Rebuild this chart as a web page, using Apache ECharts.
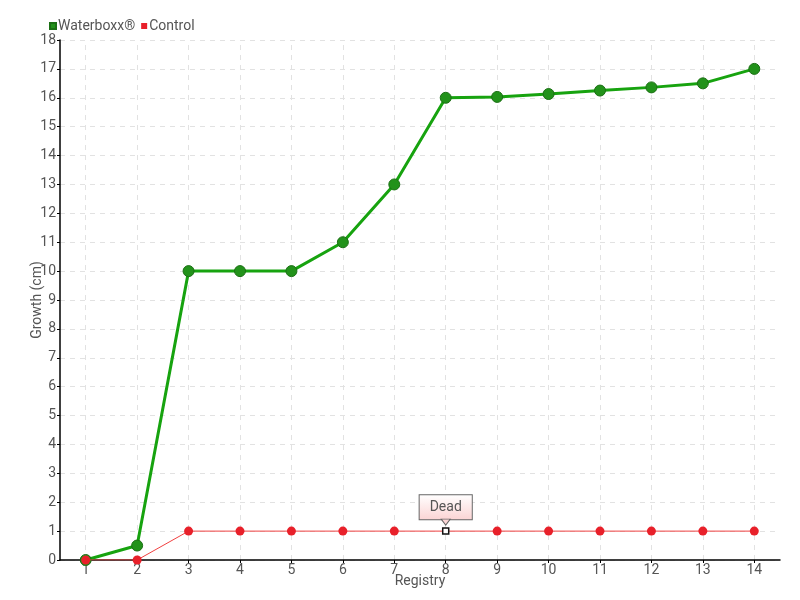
<!DOCTYPE html>
<html>
<head>
<meta charset="utf-8">
<script src="https://cdn.jsdelivr.net/npm/echarts@6/dist/echarts.min.js"></script>
<style>
  html, body { margin: 0; padding: 0; background: #fff; }
  #chart { width: 800px; height: 600px; }
</style>
</head>
<body>
<div id="chart"></div>
<script>
const registry = ['1', '2', '3', '4', '5', '6', '7', '8', '9', '10', '11', '12', '13', '14']
const waterboxx = [0, 0.5, 10, 10, 10, 11, 13, 16, 16.03, 16.13, 16.25, 16.36, 16.5, 17]
const control = [0, 0, 1, 1, 1, 1, 1, 1, 1, 1, 1, 1, 1, 1]
const deadIndex = 7

const font = "Roboto, 'Liberation Sans', sans-serif"
const textColor = '#555'
const gridColor = '#e2e2e2'

const chart = echarts.init(document.getElementById('chart'))

const controlData = control.map((v, i) => {
  if (i !== deadIndex) return v
  return {
    value: v,
    symbol: 'rect',
    symbolSize: 6,
    itemStyle: { color: '#fff', borderColor: '#111', borderWidth: 1.5 },
    label: {
      show: true,
      position: 'top',
      distance: 8,
      formatter: 'Dead',
      fontFamily: font,
      fontSize: 14,
      color: '#555',
      padding: [5, 10, 5, 10],
      borderColor: '#666',
      borderWidth: 1,
      backgroundColor: {
        type: 'linear', x: 0, y: 0, x2: 0, y2: 1,
        colorStops: [
          { offset: 0, color: '#ffffff' },
          { offset: 1, color: '#fbd3d3' }
        ]
      }
    }
  }
})

// vertical grid lines on the category centres
const categoryLines = registry.map(c => ({ xAxis: c }))

chart.setOption({
  animation: false,
  textStyle: { fontFamily: font },
  legend: {
    left: 44,
    top: 14,
    itemWidth: 6,
    itemHeight: 6,
    itemGap: 6,
    icon: 'rect',
    textStyle: { fontFamily: font, fontSize: 14, color: textColor, padding: [0, 0, 0, -3] },
    data: ['Waterboxx®', 'Control']
  },
  grid: { left: 60, right: 20, top: 40, bottom: 40, containLabel: false },
  xAxis: {
    type: 'category',
    data: registry,
    boundaryGap: true,
    name: 'Registry',
    nameLocation: 'middle',
    nameGap: 14,
    nameMoveOverlap: false,
    nameTextStyle: { fontFamily: font, fontSize: 14, color: textColor },
    axisLine: { lineStyle: { color: '#000', width: 1.5 } },
    axisTick: { show: true, alignWithLabel: true, length: 3, lineStyle: { color: '#000' } },
    axisLabel: { fontFamily: font, fontSize: 14, color: textColor, margin: 3, interval: 0 },
    splitLine: { show: false }
  },
  yAxis: {
    type: 'value',
    min: 0,
    max: 18,
    interval: 1,
    name: 'Growth (cm)',
    nameLocation: 'middle',
    nameGap: 16,
    nameMoveOverlap: false,
    nameTextStyle: { fontFamily: font, fontSize: 14, color: textColor },
    axisLine: { show: true, lineStyle: { color: '#000', width: 1.5 } },
    axisTick: { show: true, length: 3, lineStyle: { color: '#000' } },
    axisLabel: { fontFamily: font, fontSize: 14, color: textColor, margin: 4 },
    splitLine: { show: true, lineStyle: { color: gridColor, type: [5, 5] } }
  },
  series: [
    {
      name: 'Waterboxx®',
      type: 'line',
      data: waterboxx,
      symbol: 'circle',
      symbolSize: 11,
      color: '#1aa312',
      lineStyle: { color: '#17a30f', width: 3 },
      itemStyle: { color: '#22921a', borderColor: '#1b6f14', borderWidth: 1 },
      z: 2,
      markLine: {
        silent: true,
        symbol: 'none',
        label: { show: false },
        lineStyle: { color: gridColor, type: [5, 5], width: 1 },
        z: 0,
        data: categoryLines
      }
    },
    {
      name: 'Control',
      type: 'line',
      data: controlData,
      symbol: 'circle',
      symbolSize: 9,
      color: '#e8202a',
      lineStyle: { color: '#f04040', width: 1 },
      itemStyle: { color: '#e8202a' },
      z: 3,
      markPoint: {
        silent: true,
        symbol: 'triangle',
        symbolRotate: 180,
        symbolSize: [9, 6],
        symbolOffset: [0, -9],
        label: { show: false },
        itemStyle: { color: '#fbd6d6', borderColor: '#666', borderWidth: 1 },
        data: [{ coord: [registry[deadIndex], control[deadIndex]] }]
      }
    }
  ]
})
</script>
</body>
</html>
